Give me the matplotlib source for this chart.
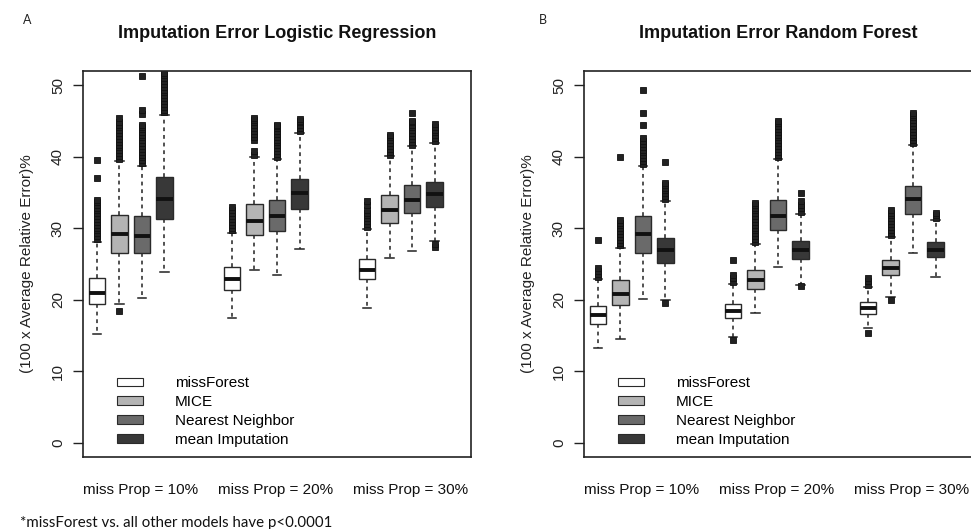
import matplotlib
matplotlib.use("Agg")
import matplotlib.pyplot as plt
from matplotlib.patches import Patch

plt.rcParams["font.family"] = ["Liberation Sans", "DejaVu Sans"]

methods = ["missForest", "MICE", "Nearest Neighbor", "mean Imputation"]
method_colors = ["#ffffff", "#b4b4b4", "#6a6a6a", "#383838"]
group_labels = ["miss Prop = 10%", "miss Prop = 20%", "miss Prop = 30%"]
positions = [1, 2, 3, 4, 7, 8, 9, 10, 13, 14, 15, 16]
label_positions = [2.95, 8.95, 14.95]

# ---- Panel A: logistic regression (order: 10% x4 methods, 20% x4, 30% x4)
lr_med = [21.0, 29.15, 28.9, 34.1, 22.9, 31.0, 31.75, 34.9, 24.2, 32.6, 34.0, 34.75]
lr_q1 = [19.4, 26.6, 26.6, 31.3, 21.4, 29.05, 29.65, 32.7, 22.85, 30.75, 32.15, 33.0]
lr_q3 = [23.05, 31.9, 31.65, 37.15, 24.55, 33.45, 33.9, 36.95, 25.65, 34.6, 36.1, 36.5]
lr_lo = [15.25, 19.4, 20.25, 23.95, 17.45, 24.1, 23.45, 27.1, 18.85, 25.8, 26.8, 28.25]
lr_hi = [28.05, 39.35, 38.75, 45.9, 29.4, 39.95, 39.7, 43.35, 29.9, 40.05, 41.45, 41.9]
lr_out = [
    [28.5, 28.9, 29.3, 29.7, 30.1, 30.5, 30.9, 31.3, 31.7, 32.1, 32.5, 32.9, 33.3, 33.7, 34.0, 37.0, 39.6],
    [39.7, 40.1, 40.5, 40.9, 41.3, 41.7, 42.1, 42.5, 42.9, 43.3, 43.7, 44.1, 44.5, 44.9, 45.4, 18.45],
    [39.1, 39.5, 39.9, 40.3, 40.7, 41.1, 41.5, 41.9, 42.3, 42.7, 43.1, 43.5, 43.9, 44.2, 44.5, 46.0, 46.5, 51.3],
    [46.2, 46.6, 47.0, 47.4, 47.8, 48.2, 48.6, 49.0, 49.4, 49.8, 50.2, 50.6, 51.0, 51.4, 51.7],
    [29.7, 30.1, 30.5, 30.9, 31.3, 31.7, 32.1, 32.5, 33.0],
    [40.3, 40.8, 42.4, 42.8, 43.2, 43.6, 44.0, 44.4, 44.8, 45.1, 45.4],
    [40.0, 40.4, 40.8, 41.2, 41.6, 42.0, 42.4, 42.8, 43.2, 43.6, 44.0, 44.3, 44.5],
    [43.6, 44.0, 44.4, 44.8, 45.0, 45.3],
    [30.2, 30.6, 31.0, 31.4, 31.8, 32.2, 32.5, 33.3, 33.8],
    [40.3, 40.7, 41.1, 41.5, 41.9, 42.3, 42.7, 43.1],
    [41.7, 42.1, 42.5, 42.9, 43.3, 43.7, 44.1, 44.5, 44.8, 45.0, 46.1],
    [42.2, 42.6, 43.0, 43.4, 43.8, 44.2, 44.6, 27.4, 27.8],
]

# ---- Panel B: random forest
rf_med = [17.9, 20.8, 29.15, 26.9, 18.45, 22.8, 31.75, 27.0, 18.9, 24.45, 34.05, 27.0]
rf_q1 = [16.55, 19.3, 26.55, 25.1, 17.4, 21.5, 29.7, 25.7, 18.0, 23.4, 31.95, 25.95]
rf_q3 = [19.15, 22.7, 31.7, 28.6, 19.4, 24.1, 33.95, 28.2, 19.7, 25.6, 35.9, 28.1]
rf_lo = [13.2, 14.45, 20.05, 19.95, 14.8, 18.1, 24.55, 22.1, 16.1, 20.35, 26.6, 23.25]
rf_hi = [22.9, 27.3, 38.75, 33.85, 22.2, 27.85, 39.65, 32.05, 21.85, 28.8, 41.7, 31.15]
rf_out = [
    [23.2, 23.6, 24.0, 24.4, 28.3],
    [27.6, 28.0, 28.4, 28.8, 29.2, 29.6, 30.0, 30.4, 30.8, 31.2, 40.0],
    [39.0, 39.4, 39.8, 40.2, 40.6, 41.0, 41.4, 41.8, 42.2, 42.6, 44.4, 46.1, 49.4],
    [34.1, 34.5, 34.9, 35.3, 35.7, 36.0, 36.3, 39.2, 19.5],
    [22.5, 23.0, 23.5, 25.5, 14.3],
    [28.1, 28.5, 28.9, 29.3, 29.7, 30.1, 30.5, 30.9, 31.3, 31.7, 32.1, 32.5, 32.9, 33.2, 33.5],
    [39.9, 40.3, 40.7, 41.1, 41.5, 41.9, 42.3, 42.7, 43.1, 43.5, 43.9, 44.3, 44.7, 45.0],
    [32.3, 32.8, 33.3, 33.8, 34.9, 21.9],
    [22.1, 22.6, 23.1, 15.3],
    [29.0, 29.4, 29.8, 30.2, 30.6, 31.0, 31.4, 31.8, 32.2, 32.6, 19.9],
    [41.9, 42.3, 42.7, 43.1, 43.5, 43.9, 44.3, 44.7, 45.1, 45.5, 45.8, 46.1],
    [31.4, 31.8, 32.2],
]

panels = [
    ("A", "Imputation Error Logistic Regression", lr_med, lr_q1, lr_q3, lr_lo, lr_hi, lr_out),
    ("B", "Imputation Error Random Forest", rf_med, rf_q1, rf_q3, rf_lo, rf_hi, rf_out),
]

W, H = 971, 529
fig = plt.figure(figsize=(W / 100, H / 100), dpi=100)
fig.patch.set_facecolor("white")

axes_left_px = [83, 584]
for (letter, title, med, q1, q3, lo, hi, out), left_px in zip(panels, axes_left_px):
    ax = fig.add_axes([left_px / W, (H - 457) / H, 388 / W, 386 / H])
    stats = []
    for i in range(len(positions)):
        stats.append(dict(med=med[i], q1=q1[i], q3=q3[i],
                          whislo=lo[i], whishi=hi[i], fliers=out[i]))
    box_colors = [method_colors[i % 4] for i in range(len(positions))]
    bp = ax.bxp(stats, positions=positions, widths=0.75, capwidths=0.375,
                patch_artist=True, showfliers=True,
                boxprops=dict(edgecolor="#2a2a2a", linewidth=1.0),
                medianprops=dict(color="#111111", linewidth=2.8, solid_capstyle="butt"),
                whiskerprops=dict(color="#222222", linewidth=1.1, linestyle=(0, (2.5, 2.5))),
                capprops=dict(color="#222222", linewidth=1.1),
                flierprops=dict(marker="s", markersize=3.9, markerfacecolor="#222222",
                                markeredgecolor="#111111", markeredgewidth=0.6,
                                linestyle="none"))
    for patch, c in zip(bp["boxes"], box_colors):
        patch.set_facecolor(c)
        patch.set_zorder(3)
    for m in bp["medians"]:
        m.set_zorder(4)

    ax.set_xlim(0.38, 17.62)
    ax.set_ylim(-2, 52)
    ax.set_yticks([0, 10, 20, 30, 40, 50])
    ax.set_yticklabels(["0", "10", "20", "30", "40", "50"], rotation=90, va="center")
    ax.tick_params(axis="y", direction="out", length=7, width=1.0, pad=6,
                   labelsize=11, color="#222222", labelcolor="#222222")
    ax.set_xticks(label_positions)
    ax.set_xticklabels(group_labels)
    ax.tick_params(axis="x", length=0, pad=19, labelsize=11, labelcolor="#111111")
    for s in ax.spines.values():
        s.set_linewidth(1.2)
        s.set_color("#222222")

    ax.text(-0.144, 0.5, "(100 x Average Relative Error)%", transform=ax.transAxes,
            rotation=90, ha="center", va="center", fontsize=11, color="#222222")
    ax.text(0.5, 1.098, title, transform=ax.transAxes, ha="center", va="center",
            fontsize=13, fontweight="bold", color="#111111")

    handles = [Patch(facecolor=c, edgecolor="#2a2a2a", linewidth=0.8) for c in method_colors]
    ax.legend(handles, methods, loc="lower left", bbox_to_anchor=(0.0876, 0.026),
              frameon=False, fontsize=11, handlelength=1.7, handleheight=0.5,
              handletextpad=2.1, labelspacing=0.32, borderpad=0, borderaxespad=0)

fig.text(27 / W, 1 - 20 / H, "A", ha="center", va="center", fontsize=9,
         family=["Lato", "DejaVu Sans"], color="#222222")
fig.text(543 / W, 1 - 20 / H, "B", ha="center", va="center", fontsize=9,
         family=["Lato", "DejaVu Sans"], color="#222222")
fig.text(20 / W, 1 - 523 / H, "*missForest vs. all other models have p<0.0001",
         ha="left", va="center", fontsize=10.8, family=["Lato", "DejaVu Sans"],
         color="#111111")

fig.savefig("out.png", dpi=100)
